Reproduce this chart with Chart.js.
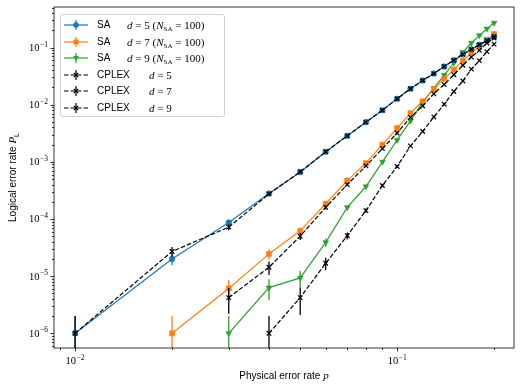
<!DOCTYPE html>
<html>
<head>
<meta charset="utf-8">
<script src="https://cdn.jsdelivr.net/npm/chart.js@4.4.0/dist/chart.umd.min.js"></script>
<style>
  body { margin: 0; background: #fff; }
  #wrap { position: relative; width: 523px; height: 390px; }
  .sans { font-family: "Liberation Sans", "DejaVu Sans", sans-serif; }
  .m { font-family: "Liberation Serif", "DejaVu Serif", serif; font-style: italic; }
  .r { font-family: "Liberation Serif", "DejaVu Serif", serif; }
  #xtitle { position: absolute; left: 184px; width: 200px; top: 369px; text-align: center; font-size: 10px; }
  #legend { position: absolute; left: 60px; top: 14px; width: 165px; height: 103px; border: 1px solid #d0d0d0; border-radius: 3px; background: rgba(255,255,255,0.85); box-sizing: border-box; }
  .row { position: absolute; left: 3px; height: 14px; font-size: 10px; line-height: 14px; white-space: nowrap; }
  .row .m, .row .r { font-size: 11px; }
  .row svg { position: absolute; left: 0; top: 1px; }
  .row .lab { position: absolute; left: 33px; }
  .row .math { position: absolute; }
  sub { font-size: 7px !important; vertical-align: -2px; font-style: normal; }
</style>
</head>
<body>
<div id="wrap">
  <canvas id="chart" width="523" height="390"></canvas>
  <div id="legend"></div>
  <div id="xtitle"><span class="sans">Physical error rate </span><span class="m" style="font-size:11px">p</span></div>
</div>
<script>
// physical error rates
const pValues = [0.01, 0.02, 0.03, 0.04, 0.05, 0.06, 0.07, 0.08, 0.09, 0.10,
                 0.11, 0.12, 0.13, 0.14, 0.15, 0.16, 0.17, 0.18, 0.19, 0.20];

// logical error rates
const saD5 = [1.0e-6, 2.0e-5, 8.7e-5, 2.8e-4, 6.6e-4, 1.5e-3, 2.85e-3, 4.95e-3, 8.0e-3, 1.27e-2,
              1.9e-2, 2.65e-2, 3.5e-2, 4.65e-2, 6.0e-2, 7.6e-2, 9.3e-2, 1.12e-1, 1.32e-1, 1.55e-1];
const saD7 = [null, 1.0e-6, 6.1e-6, 2.45e-5, 6.2e-5, 1.85e-4, 4.7e-4, 9.5e-4, 2.0e-3, 3.9e-3,
              7.1e-3, 1.15e-2, 1.87e-2, 2.84e-2, 4.1e-2, 5.9e-2, 8.0e-2, 1.05e-1, 1.37e-1, 1.72e-1];
const saD9 = [null, null, 1.0e-6, 6.3e-6, 9.3e-6, 3.9e-5, 1.6e-4, 3.7e-4, 1.0e-3, 2.4e-3,
              5.2e-3, 1.1e-2, 1.95e-2, 3.3e-2, 5.4e-2, 8.3e-2, 1.2e-1, 1.63e-1, 2.13e-1, 2.7e-1];
const cplexD5 = [1.0e-6, 2.7e-5, 7.2e-5, 2.75e-4, 6.7e-4, 1.5e-3, 2.85e-3, 4.95e-3, 8.0e-3, 1.27e-2,
                 1.9e-2, 2.65e-2, 3.5e-2, 4.65e-2, 6.0e-2, 7.6e-2, 9.3e-2, 1.12e-1, 1.32e-1, 1.55e-1];
const cplexD7 = [null, null, 4.2e-6, 1.43e-5, 5.0e-5, 1.6e-4, 4.0e-4, 8.5e-4, 1.7e-3, 3.2e-3,
                 6.0e-3, 9.5e-3, 1.55e-2, 2.26e-2, 3.34e-2, 4.9e-2, 6.8e-2, 8.9e-2, 1.2e-1, 1.47e-1];
const cplexD9 = [null, null, null, 1.0e-6, 4.2e-6, 1.68e-5, 5.1e-5, 1.4e-4, 3.85e-4, 8.3e-4,
                 1.9e-3, 3.4e-3, 6.1e-3, 1.02e-2, 1.7e-2, 2.6e-2, 4.2e-2, 5.9e-2, 8.5e-2, 1.15e-1];

// error bar half widths
const saD5Err = [1.0e-6, 4.5e-6, 9.0e-6, 1.7e-5, 2.6e-5, 3.9e-5, 5.3e-5, 7.0e-5, 9.0e-5, 1.1e-4,
                 1.4e-4, 1.6e-4, 1.9e-4, 2.2e-4, 2.4e-4, 2.8e-4, 3.0e-4, 3.3e-4, 3.6e-4, 3.9e-4];
const saD7Err = [null, 1.0e-6, 2.5e-6, 5.0e-6, 7.9e-6, 1.4e-5, 2.2e-5, 3.1e-5, 4.5e-5, 6.2e-5,
                 8.4e-5, 1.1e-4, 1.4e-4, 1.7e-4, 2.0e-4, 2.4e-4, 2.8e-4, 3.2e-4, 3.7e-4, 4.1e-4];
const saD9Err = [null, null, 1.0e-6, 2.5e-6, 3.0e-6, 6.2e-6, 1.3e-5, 1.9e-5, 3.2e-5, 4.9e-5,
                 7.2e-5, 1.05e-4, 1.4e-4, 1.8e-4, 2.3e-4, 2.9e-4, 3.5e-4, 4.0e-4, 4.6e-4, 5.2e-4];
const cplexD5Err = [1.0e-6, 5.2e-6, 8.5e-6, 1.7e-5, 2.6e-5, 3.9e-5, 5.3e-5, 7.0e-5, 9.0e-5, 1.1e-4,
                    1.4e-4, 1.6e-4, 1.9e-4, 2.2e-4, 2.4e-4, 2.8e-4, 3.0e-4, 3.3e-4, 3.6e-4, 3.9e-4];
const cplexD7Err = [null, null, 2.0e-6, 3.8e-6, 7.1e-6, 1.3e-5, 2.0e-5, 2.9e-5, 4.1e-5, 5.7e-5,
                    7.7e-5, 9.7e-5, 1.2e-4, 1.5e-4, 1.8e-4, 2.2e-4, 2.6e-4, 3.0e-4, 3.5e-4, 3.8e-4];
const cplexD9Err = [null, null, null, 1.0e-6, 2.1e-6, 4.1e-6, 7.1e-6, 1.2e-5, 2.0e-5, 2.9e-5,
                    4.4e-5, 5.8e-5, 7.8e-5, 1.0e-4, 1.3e-4, 1.6e-4, 2.0e-4, 2.4e-4, 2.9e-4, 3.4e-4];

// axis ticks (labelled decades)
const xTickExps = [-2, -1];
const yTickExps = [-6, -5, -4, -3, -2, -1];

const series = [
  { name: 'SA', d: 5, nsa: true, vals: saD5, err: saD5Err, color: '#1f77b4', marker: 'circle', r: 2.8, dash: [] },
  { name: 'SA', d: 7, nsa: true, vals: saD7, err: saD7Err, color: '#ff7f0e', marker: 'rect', r: 3.6, dash: [] },
  { name: 'SA', d: 9, nsa: true, vals: saD9, err: saD9Err, color: '#2ca02c', marker: 'triangle', r: 3.3, dash: [] },
  { name: 'CPLEX', d: 5, nsa: false, vals: cplexD5, err: cplexD5Err, color: '#000000', marker: 'crossRot', r: 3.2, dash: [4.5, 2] },
  { name: 'CPLEX', d: 7, nsa: false, vals: cplexD7, err: cplexD7Err, color: '#000000', marker: 'crossRot', r: 3.2, dash: [4.5, 2] },
  { name: 'CPLEX', d: 9, nsa: false, vals: cplexD9, err: cplexD9Err, color: '#000000', marker: 'crossRot', r: 3.2, dash: [4.5, 2] }
];

const datasets = series.map((s, k) => {
  const pts = [], errs = [];
  s.vals.forEach((v, i) => {
    if (v !== null) { pts.push({ x: pValues[i], y: v }); errs.push(s.err[i]); }
  });
  return {
    label: s.name + ' d=' + s.d,
    data: pts,
    errors: errs,
    borderColor: s.color,
    backgroundColor: s.color,
    borderWidth: 1.2,
    borderDash: s.dash,
    pointStyle: s.marker,
    pointRotation: s.marker === 'triangle' ? 180 : 0,
    pointRadius: s.r,
    pointBorderWidth: s.marker === 'crossRot' ? 1.2 : 0.6,
    tension: 0,
    fill: false,
    order: k < 3 ? 1 : 0
  };
});

const errorBars = {
  id: 'errorBars',
  afterDatasetDraw(chart, args) {
    const ds = chart.data.datasets[args.index];
    const ctx = chart.ctx, a = chart.chartArea;
    const xs = chart.scales.x, ys = chart.scales.y;
    ctx.save();
    ctx.beginPath();
    ctx.rect(a.left, a.top, a.right - a.left, a.bottom - a.top);
    ctx.clip();
    ctx.strokeStyle = ds.borderColor;
    ctx.lineWidth = 1.3;
    ds.data.forEach((pt, i) => {
      const e = ds.errors[i];
      if (!e) return;
      const px = xs.getPixelForValue(pt.x);
      const top = ys.getPixelForValue(pt.y + e);
      const bot = pt.y - e > 0 ? ys.getPixelForValue(pt.y - e) : a.bottom + 5;
      ctx.beginPath();
      ctx.moveTo(px, top);
      ctx.lineTo(px, bot);
      ctx.stroke();
    });
    ctx.restore();
  }
};

const baseFont = '10.5px "Liberation Serif", "DejaVu Serif", serif';
const supFont = '7.5px "Liberation Serif", "DejaVu Serif", serif';

function drawPow(ctx, exp, x, y, align) {
  const base = '10', sup = '\u2212' + Math.abs(exp);
  ctx.font = baseFont;
  const wb = ctx.measureText(base).width;
  ctx.font = supFont;
  const ws = ctx.measureText(sup).width;
  const w = wb + ws + 0.5;
  const left = align === 'center' ? x - w / 2 : x - w;
  ctx.textBaseline = 'alphabetic';
  ctx.textAlign = 'left';
  ctx.font = baseFont;
  ctx.fillText(base, left, y);
  ctx.font = supFont;
  ctx.fillText(sup, left + wb + 0.5, y - 4.5);
}

// y axis title: sans text, italic P with subscript L
function drawYTitle(ctx, a) {
  const parts = [
    { t: 'Logical error rate ', f: '10px "Liberation Sans", "DejaVu Sans", sans-serif', dy: 0 },
    { t: 'P', f: 'italic 11px "Liberation Serif", "DejaVu Serif", serif', dy: 0 },
    { t: 'L', f: '7px "Liberation Sans", "DejaVu Sans", sans-serif', dy: 2.5 }
  ];
  let total = 0;
  parts.forEach(p => { ctx.font = p.f; p.w = ctx.measureText(p.t).width; total += p.w; });
  ctx.save();
  ctx.translate(16, (a.top + a.bottom) / 2);
  ctx.rotate(-Math.PI / 2);
  ctx.textAlign = 'left';
  ctx.textBaseline = 'alphabetic';
  let x = -total / 2;
  parts.forEach(p => { ctx.font = p.f; ctx.fillText(p.t, x, p.dy); x += p.w; });
  ctx.restore();
}

const frame = {
  id: 'frame',
  afterDraw(chart) {
    const ctx = chart.ctx, a = chart.chartArea;
    const xs = chart.scales.x, ys = chart.scales.y;
    ctx.save();
    ctx.strokeStyle = '#000';
    ctx.fillStyle = '#000';
    ctx.lineWidth = 0.8;
    ctx.strokeRect(a.left, a.top, a.right - a.left, a.bottom - a.top);
    // x ticks
    for (let e = -3; e <= 0; e++) {
      for (let m = 1; m <= 9; m++) {
        const v = m * Math.pow(10, e);
        if (v < xs.min || v > xs.max) continue;
        const px = Math.round(xs.getPixelForValue(v)) + 0.5;
        const len = m === 1 ? 3.5 : 2;
        ctx.beginPath(); ctx.moveTo(px, a.bottom); ctx.lineTo(px, a.bottom + len); ctx.stroke();
      }
    }
    // y ticks
    for (let e = -7; e <= 0; e++) {
      for (let m = 1; m <= 9; m++) {
        const v = m * Math.pow(10, e);
        if (v < ys.min || v > ys.max) continue;
        const py = Math.round(ys.getPixelForValue(v)) + 0.5;
        const len = m === 1 ? 3.5 : 2;
        ctx.beginPath(); ctx.moveTo(a.left, py); ctx.lineTo(a.left - len, py); ctx.stroke();
      }
    }
    xTickExps.forEach(e => drawPow(ctx, e, xs.getPixelForValue(Math.pow(10, e)), a.bottom + 16, 'center'));
    yTickExps.forEach(e => drawPow(ctx, e, a.left - 6, ys.getPixelForValue(Math.pow(10, e)) + 3.5, 'right'));
    drawYTitle(ctx, a);
    ctx.restore();
  }
};

new Chart(document.getElementById('chart'), {
  type: 'line',
  data: { datasets: datasets },
  options: {
    responsive: false,
    animation: false,
    devicePixelRatio: 1,
    layout: { padding: { left: 54, top: 7, right: 9, bottom: 42 } },
    plugins: { legend: { display: false }, tooltip: { enabled: false } },
    scales: {
      x: { type: 'logarithmic', min: 0.0086, max: 0.2306, display: false },
      y: { type: 'logarithmic', min: 5.53e-7, max: 0.512, display: false }
    }
  },
  plugins: [errorBars, frame]
});

// legend built from the series list
function icon(s) {
  const dash = s.dash.length ? ' stroke-dasharray="4.5 2"' : '';
  let mk = '';
  if (s.marker === 'circle') mk = '<circle cx="12" cy="6" r="2.8" fill="' + s.color + '"/>';
  if (s.marker === 'rect') mk = '<rect x="9.5" y="3.5" width="5" height="5" fill="' + s.color + '"/>';
  if (s.marker === 'triangle') mk = '<polygon points="9.2,4 14.8,4 12,8.8" fill="' + s.color + '"/>';
  if (s.marker === 'crossRot') mk = '<path d="M9.8,3.8L14.2,8.2M14.2,3.8L9.8,8.2" stroke="#000" stroke-width="1.2"/>';
  return '<svg width="24" height="12"><line x1="0" y1="6" x2="24" y2="6" stroke="' + s.color + '" stroke-width="1.2"' + dash + '/>' +
    '<line x1="12" y1="1" x2="12" y2="11" stroke="' + s.color + '" stroke-width="1.2"/>' + mk + '</svg>';
}
const legend = document.getElementById('legend');
series.forEach((s, i) => {
  const row = document.createElement('div');
  row.className = 'row';
  row.style.top = (3 + i * 16.6) + 'px';
  let math = '<span class="m">d</span><span class="r"> = ' + s.d + '</span>';
  if (s.nsa) math += '<span class="r"> (</span><span class="m">N</span><sub class="r">SA</sub><span class="r"> = 100)</span>';
  row.innerHTML = icon(s) + '<span class="lab sans">' + s.name + '</span>' +
    '<span class="math" style="left:' + (s.nsa ? 63 : 85) + 'px">' + math + '</span>';
  legend.appendChild(row);
});
</script>
</body>
</html>
